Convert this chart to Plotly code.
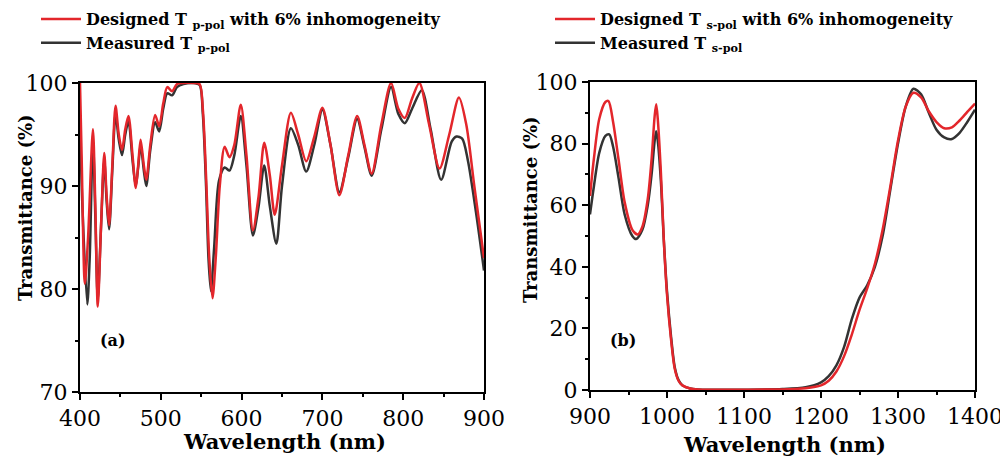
import plotly.graph_objects as go

# ---------------- data: panel (a), p-polarisation ----------------
wl_p_designed = [400, 402, 406, 410, 416, 419, 422, 426, 430, 433, 436, 440, 444, 448, 452, 456,
                 460, 465, 469, 472, 475, 479, 482, 487, 493, 498, 503, 508, 514, 520, 528, 540,
                 548, 552, 556, 560, 564, 568, 573, 579, 585, 591, 599, 606, 614, 621, 628, 635,
                 641, 650, 661, 670, 680, 690, 700, 710, 721, 732, 743, 752, 761, 773, 785, 794,
                 802, 811, 820, 832, 845, 857, 869, 878, 888, 900]
T_p_designed = [100, 93, 80.5, 85, 95.5, 88, 78.3, 86, 93.2, 89, 86.2, 92, 97.8, 95, 93.5, 95.5,
                96.8, 93, 89.8, 92, 94.5, 92, 90.6, 94, 96.9, 95.8, 98, 99.6, 99.2, 99.9, 100, 100,
                99.9, 97.5, 91, 83, 79.1, 83, 90, 93.8, 92.8, 94, 97.9, 93, 85.7, 89, 94.2, 91,
                87.2, 92, 97.1, 95, 92.4, 94.8, 97.6, 94, 89.1, 93, 96.8, 94, 91.2, 96, 100, 97.5,
                96.6, 98.5, 100, 96, 91.7, 95, 98.6, 96, 90, 83]

wl_p_measured = [400, 403, 409, 412, 416, 419, 422, 426, 430, 433, 436, 440, 444, 448, 452, 456,
                 460, 465, 469, 472, 475, 479, 482, 487, 493, 498, 503, 508, 514, 520, 528, 540,
                 548, 552, 556, 559, 562, 566, 572, 579, 585, 591, 599, 606, 614, 621, 628, 635,
                 643, 650, 661, 670, 680, 690, 700, 710, 721, 732, 743, 752, 761, 773, 785, 794,
                 802, 811, 823, 834, 847, 860, 866, 873, 880, 890, 900]
T_p_measured = [96, 88, 78.5, 83, 94.5, 87, 79, 86, 92.5, 88.5, 85.8, 91.5, 97, 94.5, 93, 95,
                96.3, 92.5, 90, 91.8, 94, 91.5, 90, 93.5, 96.2, 95.3, 97.5, 99, 98.8, 99.6, 99.9, 100,
                99.8, 97, 90, 83, 79.8, 84, 90.5, 91.8, 91.5, 93, 96.8, 92, 85.2, 88, 92, 88,
                84.4, 90, 95.6, 94, 91.4, 94, 97.4, 94, 89.4, 92.8, 96.5, 93.8, 91, 95.5, 99.6, 97,
                96.1, 97.5, 99.3, 95.5, 90.6, 94.3, 94.8, 94.6, 92.5, 87.5, 81.8]

# ---------------- data: panel (b), s-polarisation ----------------
wl_s_designed = [900, 905, 912, 920, 924, 930, 937, 945, 955, 962, 968, 975, 980, 984, 986, 988,
                 992, 996, 1000, 1005, 1010, 1015, 1020, 1030, 1040, 1060, 1100, 1150, 1180, 1200,
                 1210, 1220, 1230, 1240, 1250, 1260, 1270, 1280, 1290, 1300, 1310, 1320, 1330,
                 1340, 1350, 1360, 1370, 1380, 1390, 1400]
T_s_designed = [63, 75, 88, 93.5, 93.8, 87, 75, 61, 52, 50.5, 53, 62, 75, 89, 92.8, 88,
                71, 48, 31, 17, 7, 3, 1.5, 0.5, 0.2, 0.1, 0.1, 0.2, 0.6, 1.5,
                3, 6, 11, 18, 26, 33, 41, 52, 66, 81, 92, 96.5, 95,
                90.5, 87, 85, 85.3, 87.5, 90.3, 93]

wl_s_measured = [900, 905, 912, 920, 925, 930, 937, 945, 955, 960, 968, 975, 980, 984, 986, 988,
                 992, 996, 1000, 1005, 1010, 1015, 1020, 1030, 1040, 1060, 1100, 1150, 1180, 1200,
                 1210, 1220, 1230, 1240, 1250, 1260, 1270, 1280, 1290, 1300, 1310, 1320, 1330,
                 1340, 1350, 1360, 1370, 1380, 1390, 1400]
T_s_measured = [57, 66, 77, 82.5, 83, 79, 69, 57, 50, 49, 52, 60, 70, 81, 84, 81,
                68, 48, 32, 18, 7.5, 3.2, 1.5, 0.5, 0.2, 0.1, 0.1, 0.3, 0.9, 2.5,
                4.5, 8, 14, 23, 30, 34, 40, 50, 65, 80, 92, 97.8, 96,
                90, 84.5, 82, 81.5, 83.5, 87, 91]

names_p = ["Designed T <sub>p-pol</sub> with 6% inhomogeneity", "Measured T <sub>p-pol</sub>"]
names_s = ["Designed T <sub>s-pol</sub> with 6% inhomogeneity", "Measured T <sub>s-pol</sub>"]

RED = "#e3262b"
BLACK = "#333333"
FONT = "DejaVu Serif"

fig = go.Figure()
fig.add_trace(go.Scatter(x=wl_p_measured, y=T_p_measured, mode="lines", name="<b>" + names_p[1] + "</b>",
                         line=dict(color=BLACK, width=2.5, shape="spline", smoothing=0.8),
                         xaxis="x", yaxis="y", legend="legend", legendrank=2))
fig.add_trace(go.Scatter(x=wl_p_designed, y=T_p_designed, mode="lines", name="<b>" + names_p[0] + "</b>",
                         line=dict(color=RED, width=2.5, shape="spline", smoothing=0.8),
                         xaxis="x", yaxis="y", legend="legend", legendrank=1))
fig.add_trace(go.Scatter(x=wl_s_measured, y=T_s_measured, mode="lines", name="<b>" + names_s[1] + "</b>",
                         line=dict(color=BLACK, width=2.5, shape="spline", smoothing=0.8),
                         xaxis="x2", yaxis="y2", legend="legend2", legendrank=2))
fig.add_trace(go.Scatter(x=wl_s_designed, y=T_s_designed, mode="lines", name="<b>" + names_s[0] + "</b>",
                         line=dict(color=RED, width=2.5, shape="spline", smoothing=0.8),
                         xaxis="x2", yaxis="y2", legend="legend2", legendrank=1))

# page has an 8px body margin, so the figure is drawn offset by 8px
OFF = 8
W, H = 1000, 451

def PX(p):
    return (p - OFF) / W

def PY(p):
    return (H - (p - OFF)) / H

def ax_common():
    return dict(showgrid=False, zeroline=False, showline=True, linecolor="black", linewidth=2,
                mirror=True, ticks="outside", ticklen=6, tickwidth=1.5, tickcolor="black",
                automargin=False,
                tickfont=dict(family=FONT, size=22, color="black"),
                minor=dict(ticks="outside", ticklen=3, tickwidth=1.5, tickcolor="black"))

xa = ax_common(); xa.update(domain=[PX(80), PX(484)], range=[400, 900], dtick=100, anchor="y")
xa["minor"]["dtick"] = 50
ya = ax_common(); ya.update(domain=[PY(392), PY(83)], range=[70, 100], dtick=10, anchor="x")
ya["minor"]["dtick"] = 5
xb = ax_common(); xb.update(domain=[PX(590), PX(975)], range=[900, 1400], dtick=100, anchor="y2")
xb["minor"]["dtick"] = 50
yb = ax_common(); yb.update(domain=[PY(390), PY(82)], range=[0, 100], dtick=20, anchor="x2")
yb["minor"]["dtick"] = 10

leg_common = dict(font=dict(family=FONT, size=16, color="black"), bgcolor="rgba(0,0,0,0)",
                  xanchor="left", yanchor="top", tracegroupgap=0, itemwidth=40)

fig.update_layout(
    template="none",
    width=W, height=H, margin=dict(l=0, r=0, t=0, b=0, autoexpand=False),
    plot_bgcolor="white", paper_bgcolor="white",
    xaxis=xa, yaxis=ya, xaxis2=xb, yaxis2=yb,
    legend=dict(x=PX(36), y=PY(2), **leg_common),
    legend2=dict(x=PX(550), y=PY(2), **leg_common),
)

ann = [
    dict(text="<b>Wavelength (nm)</b>", x=PX(284), y=PY(441), size=21),
    dict(text="<b>Wavelength (nm)</b>", x=PX(784), y=PY(444), size=21),
    dict(text="<b>Transmittance (%)</b>", x=PX(25), y=PY(208), size=18, textangle=-90),
    dict(text="<b>Transmittance (%)</b>", x=PX(530), y=PY(210), size=18, textangle=-90),
]
for a in ann:
    size = a.pop("size")
    fig.add_annotation(xref="paper", yref="paper", showarrow=False,
                       font=dict(family=FONT, size=size, color="black"),
                       xanchor="center", yanchor="middle", **a)
for lbl, px in (("(a)", 113), ("(b)", 623)):
    fig.add_annotation(xref="paper", yref="paper", showarrow=False, text="<b>" + lbl + "</b>",
                       x=PX(px), y=PY(340), xanchor="center", yanchor="middle",
                       font=dict(family=FONT, size=16, color="black"))

fig.write_html("out.html")
